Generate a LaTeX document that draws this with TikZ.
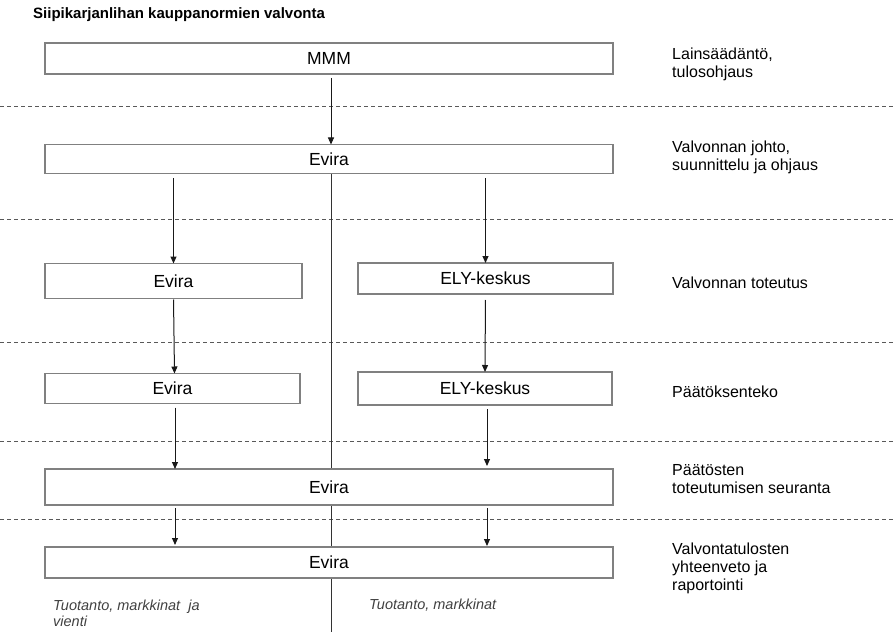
\documentclass[tikz,border=0pt]{standalone}
\usepackage{fontspec}
\setmainfont{Liberation Sans}
\usetikzlibrary{arrows.meta}
\tikzset{
  stage/.style={draw=black!50, line width=1.3pt, fill=white, inner sep=0pt, outer sep=0pt,
    font=\fontsize{17.5}{20}\selectfont},
  flow/.style={draw=black!90, line width=1pt, -{Triangle[length=7pt,width=6pt]}},
  divider/.style={draw=black!65, line width=1pt, dash pattern=on 4pt off 3pt},
  stagelabel/.style={anchor=west, align=left, inner sep=0pt, font=\fontsize{16}{18}\selectfont},
  note/.style={anchor=west, align=left, inner sep=0pt, text=black!75,
    font=\itshape\fontsize{14.5}{16}\selectfont}
}

\begin{document}
\begin{tikzpicture}[x=1pt,y=-1pt]
	%%%%% START %%%%%
	\useasboundingbox (0,0) rectangle (894,639);
	
	\node[anchor=west, inner sep=0pt, font=\bfseries\fontsize{15}{17}\selectfont] (title) at (33,15) {Siipikarjanlihan kauppanormien valvonta};
	
	% levels
	\foreach \y in {107,220,342,441,519}
		\draw[divider] (0,\y) -- (894,\y);
	
	\coordinate (axistop) at (331,174);
	\coordinate (axisend) at (331,632);
	\draw[black!80, line width=1pt] (axistop) -- (axisend);
	
	% boxes
	\node[stage, minimum width=568pt, minimum height=31pt] (mmm) at (329,58.5) {MMM};
	\node[stage, minimum width=568pt, minimum height=29pt] (lead) at (329,159) {Evira};
	\node[stage, minimum width=257pt, minimum height=35pt] (evirado) at (173.5,281) {Evira};
	\node[stage, minimum width=255pt, minimum height=31pt] (elydo) at (485.5,278.5) {ELY-keskus};
	\node[stage, minimum width=255pt, minimum height=30pt] (eviradec) at (172.5,388.5) {Evira};
	\node[stage, minimum width=254pt, minimum height=33pt] (elydec) at (485,388.5) {ELY-keskus};
	\node[stage, minimum width=568pt, minimum height=36pt] (follow) at (329,487) {Evira};
	\node[stage, minimum width=568pt, minimum height=31pt] (report) at (329,562.5) {Evira};
	
	% arrows
	\draw[flow, shorten <=4pt] (mmm.south -| axistop) -- (lead.north -| axistop);
	\draw[flow, shorten <=5pt] (lead.south -| evirado) -- (evirado.north);
	\draw[flow, shorten <=5pt] (lead.south -| elydo) -- (elydo.north);
	\draw[flow, shorten <=1pt] (evirado.south) -- ([xshift=2pt]eviradec.north);
	\draw[flow, shorten <=6pt] (elydo.south) -- (elydec.north);
	\draw[flow, shorten <=4pt] ([xshift=2.5pt]eviradec.south) -- ([xshift=2.5pt]eviradec.south |- follow.north);
	\draw[flow, shorten <=4pt, shorten >=3pt] ([xshift=2pt]elydec.south) -- ([xshift=2pt]elydec.south |- follow.north);
	\draw[flow, shorten <=3pt, shorten >=2pt] ([xshift=2.5pt]follow.south -| eviradec) -- ([xshift=2.5pt]report.north -| eviradec);
	\draw[flow, shorten <=3pt, shorten >=1pt] ([xshift=2pt]follow.south -| elydec) -- ([xshift=2pt]report.north -| elydec);
	
	% right side
	\node[stagelabel] (lawlbl) at (672,64) {Lainsäädäntö,\\tulosohjaus};
	\node[stagelabel] (leadlbl) at (672,157) {Valvonnan johto,\\suunnittelu ja ohjaus};
	\node[stagelabel] (dolbl) at (672,283) {Valvonnan toteutus};
	\node[stagelabel] (declbl) at (672,392) {Päätöksenteko};
	\node[stagelabel] (followlbl) at (672,479) {Päätösten\\toteutumisen seuranta};
	\node[stagelabel] (reportlbl) at (672,568) {Valvontatulosten\\yhteenveto ja\\raportointi};
	
	% bottom
	\node[note] (exportnote) at (53,613) {Tuotanto, markkinat\ \ ja\\vienti};
	\node[note] (marketnote) at (369,605) {Tuotanto, markkinat};
	%%%%% END %%%%%
\end{tikzpicture}
\end{document}
